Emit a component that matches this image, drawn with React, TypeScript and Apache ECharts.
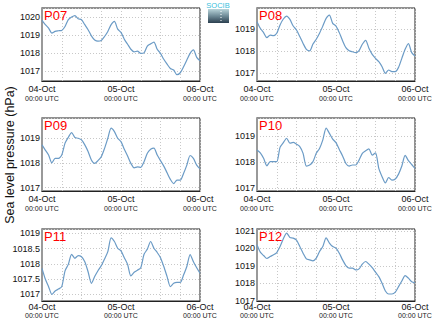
import React, { useEffect, useRef } from "react";
import * as echarts from "echarts";

// Hours since 04-Oct 00:00 UTC
const hours = [
  0, 1, 2, 3, 4, 5, 6, 7, 8, 9, 10, 11, 12, 13, 14, 15, 16, 17, 18, 19, 20, 21, 22, 23, 24,
  25, 26, 27, 28, 29, 30, 31, 32, 33, 34, 35, 36, 37, 38, 39, 40, 41, 42, 43, 44, 45, 46, 47, 48,
];
const xTickLabels = ["04-Oct", "05-Oct", "06-Oct"];
const xTickSub = "00:00 UTC";
const stations = ["P07", "P08", "P09", "P10", "P11", "P12"];

const p07 = [
  1019.81, 1019.57, 1019.38, 1019.1, 1019.2, 1019.23, 1019.25, 1019.47, 1019.85, 1020.0, 1020.08, 1019.9,
  1019.85, 1019.57, 1019.29, 1018.95, 1018.72, 1018.65, 1018.69, 1018.91, 1019.19, 1019.57, 1019.75, 1019.32,
  1019.14, 1018.76, 1018.48, 1018.2, 1018.05, 1018.1, 1017.97, 1018.0, 1018.38, 1018.5, 1018.6, 1018.2,
  1017.97, 1017.64, 1017.37, 1017.13, 1017.04, 1016.78, 1016.89, 1017.22, 1017.6, 1017.97, 1018.16, 1017.75,
  1017.56,
];
const p08 = [
  1019.35, 1019.05, 1018.85, 1018.62, 1018.74, 1018.71, 1018.82, 1019.2, 1019.47, 1019.6, 1019.45, 1019.15,
  1018.97, 1018.67, 1018.36, 1018.09, 1018.02, 1018.33, 1018.55, 1018.82, 1019.15, 1019.5, 1019.65, 1019.27,
  1019.15, 1018.85, 1018.48, 1018.17, 1018.03, 1017.98, 1017.94, 1018.03, 1018.32, 1018.5, 1018.14, 1017.86,
  1017.68, 1017.53, 1017.3, 1017.0, 1017.15, 1017.08, 1017.08, 1017.27, 1017.68, 1018.09, 1018.35, 1017.94,
  1017.79,
];
const p09 = [
  1018.73, 1018.52, 1018.32, 1018.0, 1018.18, 1018.18, 1018.32, 1018.8, 1019.04, 1019.23, 1019.03, 1019.0,
  1018.93, 1018.73, 1018.46, 1018.12, 1017.98, 1018.09, 1018.25, 1018.59, 1019.0, 1019.41, 1019.27, 1019.0,
  1018.86, 1018.55, 1018.28, 1017.98, 1017.8, 1017.84, 1017.82, 1018.05, 1018.39, 1018.55, 1018.6, 1018.32,
  1018.09, 1017.87, 1017.6, 1017.33, 1017.16, 1017.3, 1017.3, 1017.57, 1017.91, 1018.3, 1018.18, 1017.91,
  1017.76,
];
const p10 = [
  1018.46, 1018.35, 1018.14, 1017.85, 1018.01, 1018.01, 1018.01, 1018.56, 1018.74, 1018.91, 1018.72, 1018.75,
  1018.68, 1018.59, 1018.33, 1017.84, 1017.88, 1018.01, 1018.33, 1018.52, 1018.85, 1019.3, 1019.1, 1018.88,
  1018.74, 1018.48, 1018.23, 1017.94, 1017.84, 1017.88, 1017.88, 1018.07, 1018.33, 1018.43, 1018.5, 1018.26,
  1018.35, 1017.75, 1017.43, 1017.19, 1017.4, 1017.3, 1017.34, 1017.53, 1017.84, 1018.25, 1018.05, 1017.9,
  1017.75,
];
const p11 = [
  1017.85, 1017.5, 1017.25, 1017.0, 1017.11, 1017.17, 1017.25, 1017.77, 1017.98, 1018.31, 1018.18, 1018.27,
  1018.23, 1018.07, 1017.74, 1017.36, 1017.58, 1017.77, 1017.94, 1018.16, 1018.4, 1018.85, 1018.73, 1018.51,
  1018.42, 1018.2, 1017.98, 1017.6, 1017.72, 1017.79, 1017.87, 1018.31, 1018.48, 1018.73, 1018.51, 1018.37,
  1018.2, 1017.91, 1017.58, 1017.25, 1017.36, 1017.39, 1017.39, 1017.63, 1017.91, 1018.3, 1018.07, 1017.87,
  1017.69,
];
const p12 = [
  1020.2, 1019.78, 1019.59, 1019.42, 1019.53, 1019.63, 1019.76, 1020.1, 1020.54, 1020.87, 1020.62, 1020.58,
  1020.47, 1020.1, 1019.72, 1019.4, 1019.34, 1019.29, 1019.44, 1019.82, 1020.1, 1020.6, 1020.3, 1020.1,
  1020.01, 1019.72, 1019.34, 1019.02, 1018.87, 1018.87, 1018.77, 1018.83, 1019.1, 1019.25, 1019.1, 1018.9,
  1018.64, 1018.39, 1018.01, 1017.57, 1017.4, 1017.4, 1017.5, 1017.82, 1018.14, 1018.45, 1018.3, 1018.1,
  1018.05,
];
const seriesValues = [p07, p08, p09, p10, p11, p12];
const yMins = [1016.43, 1016.65, 1016.86, 1016.88, 1016.78, 1017];
const yMaxs = [1020.5, 1019.97, 1019.82, 1019.69, 1019.14, 1021.1];
const yStep = [1, 1, 1, 1, 0.5, 1];

export default function App() {
  const ref = useRef<HTMLDivElement>(null);
  useEffect(() => {
    if (!ref.current) return;
    const chart = echarts.init(ref.current, null, { renderer: "svg" });
    const lefts = [42, 257];
    const tops = [8, 118, 229];
    const heights = [73, 73, 72];
    const dayMargins = [3, 3, 1];
    const utcOffsets = [11, 11, 10];
    const font = "Liberation Sans, Arial, sans-serif";
    const grids: any[] = [];
    const xAxes: any[] = [];
    const yAxes: any[] = [];
    const series: any[] = [];
    const titles: any[] = [];
    stations.forEach((name, i) => {
      const col = i % 2;
      const row = Math.floor(i / 2);
      grids.push({
        left: lefts[col],
        top: tops[row],
        width: 158,
        height: heights[row],
        show: true,
        borderColor: "#222",
        borderWidth: 1,
        backgroundColor: "#fff",
      });
      xAxes.push({
        type: "value",
        gridIndex: i,
        min: 0,
        max: 48,
        interval: 6,
        axisLine: { show: true, onZero: false, lineStyle: { color: "#222", width: 1 } },
        axisTick: { show: false },
        splitLine: { show: true, lineStyle: { color: "#c8c8c8", type: [1, 2], width: 1 } },
        axisLabel: {
          margin: dayMargins[row],
          color: "#111",
          fontSize: 9,
          fontFamily: font,
          formatter: (v: number) => (v % 24 === 0 ? xTickLabels[v / 24] : ""),
        },
      });
      xAxes.push({
        type: "value",
        gridIndex: i,
        min: 0,
        max: 48,
        interval: 24,
        position: "bottom",
        offset: utcOffsets[row],
        axisLine: { show: false },
        axisTick: { show: false },
        splitLine: { show: false },
        axisLabel: {
          margin: dayMargins[row],
          color: "#222",
          fontSize: 7,
          fontFamily: font,
          formatter: () => xTickSub,
        },
      });
      const step = yStep[i];
      yAxes.push({
        type: "value",
        gridIndex: i,
        min: yMins[i],
        max: yMaxs[i],
        splitNumber: step === 1 ? (yMaxs[i] - yMins[i] > 3.5 ? 4 : 3) : 5,
        scale: true,
        axisLine: { show: true, onZero: false, lineStyle: { color: "#222", width: 1 } },
        axisTick: { show: false },
        splitLine: { show: true, lineStyle: { color: "#c8c8c8", type: [1, 2], width: 1 } },
        axisLabel: {
          margin: 2,
          fontSize: 9,
          color: "#111",
          fontFamily: font,
          formatter: (v: number) => {
            const r = Math.round(v / step) * step;
            if (Math.abs(r - v) > 1e-6) return "";
            return String(r);
          },
        },
      });
      yAxes.push({
        type: "value",
        gridIndex: i,
        position: "right",
        min: 0,
        max: 1,
        axisLine: { show: true, lineStyle: { color: "#999", width: 2 } },
        axisTick: { show: false },
        axisLabel: { show: false },
        splitLine: { show: false },
      });
      series.push({
        type: "line",
        xAxisIndex: i * 2,
        yAxisIndex: i * 2,
        data: hours.map((h, k) => [h, seriesValues[i][k]]),
        showSymbol: false,
        symbol: "none",
        smooth: 0.25,
        lineStyle: { color: "#6b9bc6", width: 1.2 },
        z: 3,
      });
      titles.push({
        text: name,
        left: lefts[col] + 2,
        top: tops[row] + 1,
        padding: 0,
        textStyle: { color: "#ff0000", fontSize: 13, fontWeight: "normal", fontFamily: font },
      });
    });
    chart.setOption({
      animation: false,
      backgroundColor: "#fff",
      title: titles,
      grid: grids,
      xAxis: xAxes,
      yAxis: yAxes,
      series,
      graphic: [
        {
          type: "text",
          x: 10,
          y: 155,
          rotation: Math.PI / 2,
          style: {
            text: "Sea level pressure (hPa)",
            fontSize: 12.5,
            fontFamily: font,
            fill: "#111",
            align: "center",
            verticalAlign: "middle",
          },
        },
        {
          type: "group",
          x: 207,
          y: 0,
          children: [
            {
              type: "text",
              x: 11,
              y: 1,
              style: {
                text: "SOCIB",
                fontSize: 7.5,
                fontFamily: font,
                fill: "#38c0dc",
                align: "center",
                verticalAlign: "top",
              },
            },
            {
              type: "rect",
              shape: { x: 1, y: 9, width: 21, height: 14 },
              style: {
                fill: new echarts.graphic.LinearGradient(0, 0, 0, 1, [
                  { offset: 0, color: "#b9d4da" },
                  { offset: 0.5, color: "#6f8b97" },
                  { offset: 1, color: "#2b3f4f" },
                ]),
              },
            },
            {
              type: "line",
              shape: { x1: 14, y1: 11, x2: 14, y2: 21 },
              style: { stroke: "#ffffff", lineWidth: 1, lineDash: [1, 2] },
            },
          ],
        },
      ],
    });
    return () => chart.dispose();
  }, []);
  return (
    <div
      ref={ref}
      style={{ position: "fixed", left: 0, top: 0, width: 435, height: 327, background: "#fff" }}
    />
  );
}
